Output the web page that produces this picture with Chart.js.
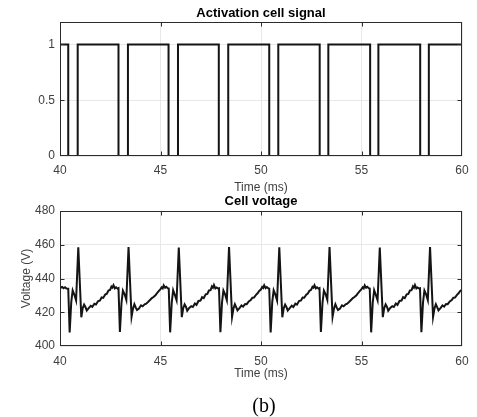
<!DOCTYPE html>
<html>
<head>
<meta charset="utf-8">
<script src="https://cdn.jsdelivr.net/npm/chart.js@4"></script>
<style>
  html, body { margin: 0; padding: 0; background: #ffffff; }
  #wrap { position: relative; width: 477px; height: 417px; overflow: hidden; background: #ffffff; }
  canvas { position: absolute; left: 0; }
  #c1 { top: 0px; }
  #c2 { top: 190px; }
  #cap { position: absolute; left: 0; width: 528px; top: 393px; text-align: center;
         font-family: "Liberation Serif", "DejaVu Serif", serif; font-size: 20px; color: #000; line-height: 24px; }
</style>
</head>
<body>
<div id="wrap">
  <canvas id="c1" width="477" height="196"></canvas>
  <canvas id="c2" width="477" height="196"></canvas>
  <div id="cap">(b)</div>
</div>
<script>
// ---------- DATA ----------
const timeTicks = [40, 45, 50, 55, 60];
const signalTicks = [0, 0.5, 1];
const voltageTicks = [400, 420, 440, 460, 480];

// Activation signal: times (ms) where the signal drops to 0 and returns to 1
const pulseOffTimes = [40.41, 42.91, 45.40, 47.90, 50.41, 52.92, 55.43, 57.92];
const pulseOnTimes  = [40.88, 43.38, 45.87, 48.37, 50.86, 53.35, 55.84, 58.35];

// Cell voltage: sampled times (ms) and values (V)
const voltageTime = [
  40.00, 40.05, 40.11, 40.18, 40.25, 40.32,
  40.41, 40.48, 40.56, 40.63, 40.71, 40.80, 40.91, 41.06, 41.13, 41.20, 41.27, 41.33, 41.43, 41.53, 41.61, 41.71, 41.79, 41.89, 41.99, 42.07, 42.15, 42.25, 42.33, 42.41, 42.49, 42.56, 42.61, 42.66, 42.73, 42.79, 42.86,
  42.91, 42.98, 43.06, 43.13, 43.21, 43.30, 43.41, 43.56, 43.63, 43.70, 43.77, 43.83, 43.93, 44.03, 44.11, 44.21, 44.29, 44.39, 44.49, 44.57, 44.65, 44.75, 44.83, 44.91, 44.99, 45.06, 45.11, 45.16, 45.23, 45.29, 45.36,
  45.41, 45.48, 45.56, 45.63, 45.71, 45.80, 45.91, 46.06, 46.13, 46.20, 46.27, 46.33, 46.43, 46.53, 46.61, 46.71, 46.79, 46.89, 46.99, 47.07, 47.15, 47.25, 47.33, 47.41, 47.49, 47.56, 47.61, 47.66, 47.73, 47.79, 47.86,
  47.91, 47.98, 48.06, 48.13, 48.21, 48.30, 48.41, 48.56, 48.63, 48.70, 48.77, 48.83, 48.93, 49.03, 49.11, 49.21, 49.29, 49.39, 49.49, 49.57, 49.65, 49.75, 49.83, 49.91, 49.99, 50.06, 50.11, 50.16, 50.23, 50.29, 50.36,
  50.41, 50.48, 50.56, 50.63, 50.71, 50.80, 50.91, 51.06, 51.13, 51.20, 51.27, 51.33, 51.43, 51.53, 51.61, 51.71, 51.79, 51.89, 51.99, 52.07, 52.15, 52.25, 52.33, 52.41, 52.49, 52.56, 52.61, 52.66, 52.73, 52.79, 52.86,
  52.91, 52.98, 53.06, 53.13, 53.21, 53.30, 53.41, 53.56, 53.63, 53.70, 53.77, 53.83, 53.93, 54.03, 54.11, 54.21, 54.29, 54.39, 54.49, 54.57, 54.65, 54.75, 54.83, 54.91, 54.99, 55.06, 55.11, 55.16, 55.23, 55.29, 55.36,
  55.41, 55.48, 55.56, 55.63, 55.71, 55.80, 55.91, 56.06, 56.13, 56.20, 56.27, 56.33, 56.43, 56.53, 56.61, 56.71, 56.79, 56.89, 56.99, 57.07, 57.15, 57.25, 57.33, 57.41, 57.49, 57.56, 57.61, 57.66, 57.73, 57.79, 57.86,
  57.91, 57.98, 58.06, 58.13, 58.21, 58.30, 58.41, 58.56, 58.63, 58.70, 58.77, 58.83, 58.93, 59.03, 59.11, 59.21, 59.29, 59.39, 59.49, 59.57, 59.65, 59.75, 59.83, 59.91, 60.00
];
const voltageValue = [
  435.5, 434.6, 435.0, 434.2, 434.8, 434.1,
  434.0, 408.0, 426.0, 433.0, 430.5, 427.0, 458.5, 417.0, 422.5, 424.5, 423.0, 421.0, 422.5, 423.8, 423.2, 425.0, 424.6, 426.5, 427.0, 428.8, 428.5, 430.5, 431.0, 432.8, 433.2, 435.2, 434.6, 436.0, 434.2, 434.8, 434.0,
  434.3, 408.3, 425.6, 432.8, 430.8, 427.3, 458.6, 417.3, 422.1, 424.8, 422.7, 421.3, 422.2, 424.1, 423.5, 424.7, 425.1, 426.2, 427.4, 428.4, 429.0, 430.1, 431.4, 432.5, 433.6, 434.8, 434.2, 435.9, 434.5, 435.1, 434.3,
  434.1, 408.1, 425.9, 433.1, 430.4, 427.1, 458.4, 417.1, 422.4, 424.6, 423.1, 420.9, 422.6, 423.6, 423.1, 425.2, 424.4, 426.7, 426.9, 428.9, 428.4, 430.6, 430.9, 432.9, 433.1, 435.3, 434.5, 436.1, 434.1, 434.7, 434.1,
  434.2, 408.2, 425.8, 432.9, 430.7, 427.2, 458.7, 417.2, 422.2, 424.7, 422.9, 421.1, 422.4, 424.0, 423.3, 424.9, 424.8, 426.4, 427.2, 428.6, 428.7, 430.3, 431.2, 432.6, 433.4, 435.0, 434.4, 436.0, 434.3, 434.9, 434.2,
  434.0, 408.0, 426.1, 433.0, 430.6, 427.0, 458.5, 417.0, 422.4, 424.5, 423.0, 421.0, 422.5, 423.9, 423.1, 425.1, 424.5, 426.6, 427.0, 428.7, 428.6, 430.4, 431.1, 432.7, 433.3, 435.1, 434.6, 436.0, 434.2, 434.8, 434.0,
  434.3, 408.3, 425.6, 432.8, 430.8, 427.3, 458.6, 417.3, 422.1, 424.8, 422.7, 421.3, 422.2, 424.1, 423.5, 424.7, 425.1, 426.2, 427.4, 428.4, 429.0, 430.1, 431.4, 432.5, 433.6, 434.8, 434.2, 435.9, 434.5, 435.1, 434.3,
  434.1, 408.1, 425.9, 433.1, 430.4, 427.1, 458.4, 417.1, 422.4, 424.6, 423.1, 420.9, 422.6, 423.6, 423.1, 425.2, 424.4, 426.7, 426.9, 428.9, 428.4, 430.6, 430.9, 432.9, 433.1, 435.3, 434.5, 436.1, 434.1, 434.7, 434.1,
  434.2, 408.2, 425.8, 432.9, 430.7, 427.2, 458.6, 417.2, 422.2, 424.7, 422.9, 421.1, 422.4, 424.0, 423.3, 424.9, 424.8, 426.4, 427.2, 428.6, 428.7, 430.3, 431.2, 432.6, 433.3
];

// ---------- build point lists from the arrays ----------
const signalPoints = [{x: timeTicks[0], y: 1}];
pulseOffTimes.forEach((t, i) => {
  signalPoints.push({x: t, y: 1}, {x: t, y: 0}, {x: pulseOnTimes[i], y: 0}, {x: pulseOnTimes[i], y: 1});
});
signalPoints.push({x: timeTicks[timeTicks.length - 1], y: 1});
const voltagePoints = voltageTime.map((t, i) => ({x: t, y: voltageValue[i]}));

// ---------- styling ----------
Chart.defaults.font.family = '"Liberation Sans", Arial, sans-serif';
Chart.defaults.color = '#404040';
const LINE = '#141414';
const GRID = '#e8e8e8';
const AXIS = '#2b2b2b';

const boxPlugin = {
  id: 'matlabBox',
  afterDatasetsDraw(chart) {
    const ctx = chart.ctx;
    const a = chart.chartArea;
    const L = Math.round(a.left) + 0.5, R = Math.round(a.right) - 0.5;
    const T = Math.round(a.top) + 0.5, B = Math.round(a.bottom) - 0.5;
    const xs = chart.scales.x, ys = chart.scales.y;
    ctx.save();
    ctx.strokeStyle = AXIS;
    ctx.lineWidth = 1;
    ctx.beginPath();
    const tl = 4;
    xs.ticks.forEach(tk => {
      if (tk.value <= xs.min || tk.value >= xs.max) return;
      const px = Math.round(xs.getPixelForValue(tk.value)) + 0.5;
      ctx.moveTo(px, B); ctx.lineTo(px, B - tl);
      ctx.moveTo(px, T); ctx.lineTo(px, T + tl);
    });
    ys.ticks.forEach(tk => {
      if (tk.value <= ys.min || tk.value >= ys.max) return;
      const py = Math.round(ys.getPixelForValue(tk.value)) + 0.5;
      ctx.moveTo(L, py); ctx.lineTo(L + tl, py);
      ctx.moveTo(R, py); ctx.lineTo(R - tl, py);
    });
    ctx.stroke();
    ctx.strokeRect(L, T, R - L, B - T);
    ctx.restore();
  }
};

function makeChart(id, points, yMin, yMax, yTickVals, titleText, titlePad, xTickPad, xTitlePadBottom, yTitle) {
  return new Chart(document.getElementById(id), {
    type: 'line',
    data: {
      datasets: [{
        data: points,
        borderColor: LINE,
        borderWidth: 2,
        pointRadius: 0,
        tension: 0,
        fill: false
      }]
    },
    options: {
      responsive: false,
      animation: false,
      events: [],
      layout: { padding: { left: 0, right: 15, top: 0, bottom: 0 } },
      plugins: {
        legend: { display: false },
        tooltip: { enabled: false },
        title: {
          display: true,
          text: titleText,
          fullSize: false,
          color: '#000000',
          font: { size: 13, weight: 'bold' },
          padding: titlePad
        }
      },
      scales: {
        x: {
          type: 'linear',
          min: timeTicks[0],
          max: timeTicks[timeTicks.length - 1],
          afterBuildTicks: s => { s.ticks = timeTicks.map(v => ({value: v})); },
          afterFit: s => { s.height = 40; },
          grid: { color: GRID, drawTicks: false },
          border: { display: false },
          ticks: { padding: xTickPad, font: { size: 12 }, color: '#404040', maxRotation: 0,
                   callback: v => String(v) },
          title: { display: true, text: 'Time (ms)', font: { size: 12 }, color: '#404040',
                   padding: { top: 0, bottom: xTitlePadBottom } }
        },
        y: {
          type: 'linear',
          min: yMin,
          max: yMax,
          afterBuildTicks: s => { s.ticks = yTickVals.map(v => ({value: v})); },
          afterFit: s => { s.width = 60; },
          grid: { color: GRID, drawTicks: false },
          border: { display: false },
          ticks: { padding: 5, font: { size: 12 }, color: '#404040', callback: v => String(v) },
          title: yTitle ? { display: true, text: yTitle, font: { size: 12 }, color: '#404040',
                            padding: { top: 19, bottom: 0 } } : { display: false }
        }
      }
    },
    plugins: [boxPlugin]
  });
}

makeChart('c1', signalPoints, 0, 1.2, signalTicks, 'Activation cell signal',
          { top: 5.5, bottom: 1 }, 7, 1.5, null);
makeChart('c2', voltagePoints, voltageTicks[0], voltageTicks[voltageTicks.length - 1], voltageTicks, 'Cell voltage',
          { top: 3.2, bottom: 2.2 }, 8, 5.5, 'Voltage (V)');
</script>
</body>
</html>
